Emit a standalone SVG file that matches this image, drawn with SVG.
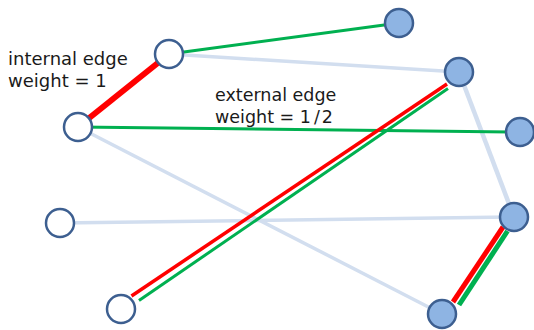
<svg xmlns="http://www.w3.org/2000/svg" width="534" height="330" viewBox="0 0 534 330">
<style>
.open{fill:#ffffff;stroke:#3d5f90;stroke-width:2.5}
.full{fill:#8eb4e3;stroke:#3d5f90;stroke-width:2.5}
.lb{stroke:#d2deef;stroke-width:3.5;fill:none}
.gr{stroke:#00b050;stroke-width:3;fill:none}
.rd{stroke:#ff0000;stroke-width:3.5;fill:none}
text{font-family:"DejaVu Sans","Open Sans",sans-serif;fill:#1a1a1a}
</style>
<rect width="534" height="330" fill="#ffffff"/>
<g id="connectors">
<line class="lb" x1="169" y1="54" x2="459" y2="72"/>
<line class="lb" x1="78" y1="127" x2="442" y2="314"/>
<line class="lb" x1="60" y1="223" x2="514" y2="217"/>
<line class="lb" x1="459" y1="72" x2="514" y2="217" style="stroke-width:4.5"/>
<line class="gr" x1="169" y1="54" x2="399" y2="23"/>
<line class="gr" x1="78" y1="127" x2="520" y2="132"/>
<line class="rd" x1="169" y1="54" x2="78" y2="127" style="stroke-width:6"/>
<line class="rd" x1="131.5" y1="296" x2="447" y2="84"/>
<line class="gr" x1="139" y1="300.5" x2="448" y2="88.5"/>
<line class="gr" x1="507.5" y1="231" x2="459" y2="305" style="stroke-width:5"/>
<line class="rd" x1="503" y1="227" x2="453" y2="302" style="stroke-width:5"/>
</g>
<g id="nA"><circle class="open" cx="169" cy="54" r="14"/></g>
<g id="nB"><circle class="open" cx="78" cy="127" r="14"/></g>
<g id="nC"><circle class="open" cx="60" cy="223" r="14"/></g>
<g id="nD"><circle class="open" cx="121" cy="309" r="14"/></g>
<g id="nE"><circle class="full" cx="399" cy="23" r="14"/></g>
<g id="nF"><circle class="full" cx="459" cy="72" r="14"/></g>
<g id="nG"><circle class="full" cx="520" cy="132" r="14"/></g>
<g id="nH"><circle class="full" cx="514" cy="217" r="14"/></g>
<g id="nI"><circle class="full" cx="442" cy="314" r="14"/></g>
<g id="label-internal">
<text x="8" y="65" font-size="18">internal edge</text>
<text x="8" y="87" font-size="18">weight = 1</text>
</g>
<g id="label-external">
<text x="215" y="101" font-size="17.5">external edge</text>
<text x="215" y="123" font-size="17.5">weight = 1<tspan dx="3">/</tspan><tspan dx="2">2</tspan></text>
</g>
</svg>
